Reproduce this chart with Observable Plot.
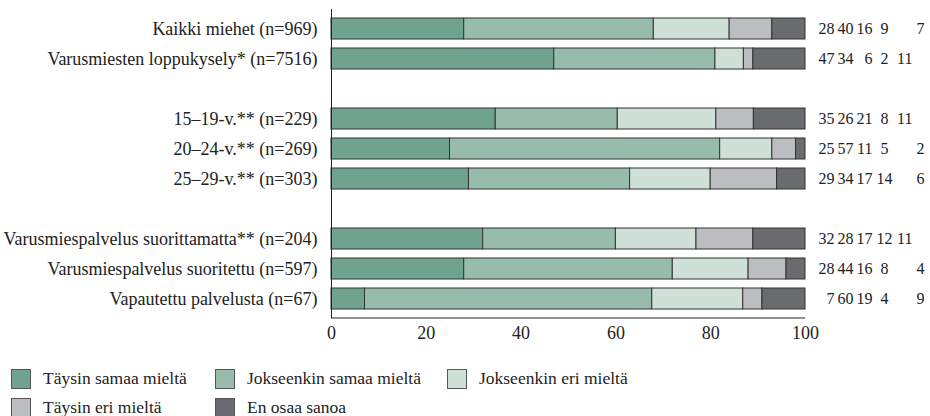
<!DOCTYPE html>
<html>
<head>
<meta charset="utf-8">
<script src="https://cdn.jsdelivr.net/npm/d3@7"></script>
<script src="https://cdn.jsdelivr.net/npm/@observablehq/plot@0.6"></script>
<style>
  body { margin: 0; background: #fff; font-family: "Liberation Serif", "DejaVu Serif", "Times New Roman", serif; color: #222; }
  #chart svg { display: block; }
  #chart svg text { font-family: "Liberation Serif", "DejaVu Serif", "Times New Roman", serif; }
  .legend { display: grid; grid-template-columns: 204px 232px auto; row-gap: 8px; margin-top: 16px; padding-left: 11px; font-size: 17.5px; }
  .legend .item { display: flex; align-items: center; height: 21px; }
  .legend .sw { width: 20px; height: 20px; box-sizing: border-box; border: 1px solid #555; margin-right: 12px; }
</style>
</head>
<body>
<div id="chart"></div>
<div class="legend" id="legend"></div>
<script>
const groups = [
  "Kaikki miehet (n=969)",
  "Varusmiesten loppukysely* (n=7516)",
  "15–19-v.** (n=229)",
  "20–24-v.** (n=269)",
  "25–29-v.** (n=303)",
  "Varusmiespalvelus suorittamatta** (n=204)",
  "Varusmiespalvelus suoritettu (n=597)",
  "Vapautettu palvelusta (n=67)"
];
const rowOrder = [groups[0], groups[1], " ", groups[2], groups[3], groups[4], "  ", groups[5], groups[6], groups[7]];
const answers = ["Täysin samaa mieltä", "Jokseenkin samaa mieltä", "Jokseenkin eri mieltä", "Täysin eri mieltä", "En osaa sanoa"];
const colors = ["#6fa28f", "#97bcab", "#cfe0d9", "#bcbdc1", "#6a6b6f"];
const taysinSamaa     = [28, 47, 35, 25, 29, 32, 28, 7];
const jokseenkinSamaa = [40, 34, 26, 57, 34, 28, 44, 60];
const jokseenkinEri   = [16, 6, 21, 11, 17, 17, 16, 19];
const taysinEri       = [9, 2, 8, 5, 14, 12, 8, 4];
const enOsaa          = [7, 11, 11, 2, 6, 11, 4, 9];
const xTicks = [0, 20, 40, 60, 80, 100];

const series = [taysinSamaa, jokseenkinSamaa, jokseenkinEri, taysinEri, enOsaa];
const rows = [];
groups.forEach((g, i) => {
  answers.forEach((a, j) => rows.push({group: g, answer: a, col: j, value: series[j][i]}));
});

const colText = (filter, opts) => Plot.text(rows.filter(filter), {
  x: () => 1, y: "group", text: d => String(d.value), fill: "#222", fontSize: 16, ...opts
});

const chart = Plot.plot({
  width: 930,
  height: 352,
  marginLeft: 331,
  marginRight: 125,
  marginTop: 9,
  marginBottom: 34,
  style: {fontFamily: "'Liberation Serif', 'DejaVu Serif', serif", fontSize: "18px", color: "#222", background: "white"},
  x: {domain: [0, 1], ticks: xTicks.map(t => t / 100), tickFormat: d => Math.round(d * 100), tickSize: 0, tickPadding: 8, label: null},
  y: {domain: rowOrder, paddingInner: 0.29, paddingOuter: 0.14, tickSize: 0, tickPadding: 14, label: null},
  color: {type: "ordinal", domain: answers, range: colors},
  marks: [
    Plot.barX(rows, Plot.stackX({x: "value", y: "group", fill: "answer", offset: "normalize", stroke: "#333", strokeWidth: 1})),
    Plot.ruleX([0], {stroke: "#222", strokeWidth: 1}),
    colText(d => d.col === 0, {textAnchor: "end", dx: 29}),
    colText(d => d.col === 1, {textAnchor: "end", dx: 48}),
    colText(d => d.col === 2, {textAnchor: "end", dx: 67}),
    colText(d => d.col === 3, {textAnchor: "middle", dx: 79}),
    colText(d => d.col === 4 && d.value >= 10, {textAnchor: "end", dx: 107}),
    colText(d => d.col === 4 && d.value < 10, {textAnchor: "end", dx: 119})
  ]
});

// bottom axis line drawn through the chart's own x scale
const sx = chart.scale("x");
const x0 = sx.apply(0), x1 = sx.apply(1);
const yb = 352 - 34;
d3.select(chart).append("line")
  .attr("x1", x0).attr("x2", x1).attr("y1", yb).attr("y2", yb)
  .attr("stroke", "#222").attr("stroke-width", 1);

document.getElementById("chart").appendChild(chart);

const legend = document.getElementById("legend");
answers.forEach((a, i) => {
  const item = document.createElement("div");
  item.className = "item";
  const sw = document.createElement("span");
  sw.className = "sw";
  sw.style.background = colors[i];
  const t = document.createElement("span");
  t.textContent = a;
  item.appendChild(sw);
  item.appendChild(t);
  legend.appendChild(item);
});
</script>
</body>
</html>
